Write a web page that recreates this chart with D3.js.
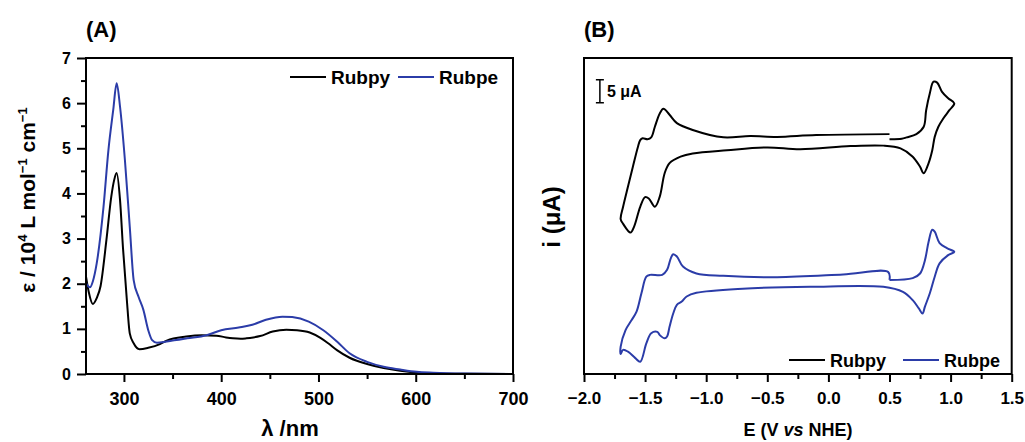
<!DOCTYPE html>
<html>
<head>
<meta charset="utf-8">
<script src="https://cdn.jsdelivr.net/npm/d3@7"></script>
<style>
	body { margin: 0; background: #fff; }
	svg text { font-family: "Liberation Sans", Arial, sans-serif; font-weight: bold; fill: #000; }
</style>
</head>
<body>
<svg width="1025" height="442"></svg>
<script>
// (A) UV-Vis spectra, epsilon in 10^4 L mol-1 cm-1
const rubpyWl = [261, 264, 268, 272, 276, 282, 287, 290, 292.5, 296, 299, 303, 306, 310, 316, 325, 337, 344, 364, 380, 395, 405, 412, 420, 426, 433, 440, 453, 467, 478, 491, 502, 510, 519, 532, 550, 567, 584, 601, 618, 650, 700];
const rubpyEps = [2.16, 1.8, 1.55, 1.68, 1.95, 2.97, 3.93, 4.3, 4.45, 3.85, 2.8, 1.64, 0.9, 0.68, 0.55, 0.58, 0.66, 0.74, 0.83, 0.86, 0.85, 0.81, 0.79, 0.78, 0.79, 0.81, 0.84, 0.94, 0.98, 0.97, 0.92, 0.8, 0.68, 0.53, 0.36, 0.22, 0.13, 0.07, 0.03, 0.01, 0.003, 0];
const rubpeWl = [261, 265, 268, 272, 279, 284, 289, 292.5, 296, 301, 306, 310, 315, 320, 325, 329, 334, 344, 365, 385, 400, 418, 432, 446, 463, 473, 490, 505, 519, 532, 550, 567, 584, 601, 618, 650, 700];
const rubpeEps = [2.01, 1.92, 2.05, 2.45, 3.7, 4.95, 5.85, 6.44, 5.92, 4.74, 3.26, 2.08, 1.71, 1.42, 0.97, 0.75, 0.69, 0.72, 0.79, 0.86, 0.97, 1.03, 1.09, 1.2, 1.27, 1.26, 1.16, 0.97, 0.72, 0.46, 0.27, 0.16, 0.1, 0.05, 0.03, 0.01, 0];

// (B) cyclic voltammograms, E in V vs NHE, i in uA (curves offset for display)
const rubpyE = [0.5, 0.6, 0.64, 0.72, 0.78, 0.8, 0.83, 0.86, 0.89, 0.93, 0.98, 1.03, 0.99, 0.94, 0.9, 0.87, 0.85, 0.82, 0.78, 0.75, 0.69, 0.59, 0.45, 0.18, -0.23, -0.5, -0.83, -1.11, -1.21, -1.3, -1.34, -1.38, -1.42, -1.47, -1.5, -1.54, -1.59, -1.62, -1.68, -1.7, -1.68, -1.64, -1.6, -1.56, -1.54, -1.52, -1.48, -1.45, -1.42, -1.38, -1.35, -1.3, -1.24, -1.11, -0.86, -0.64, -0.42, -0.1, 0.5];
const rubpyI = [16.7, 16.8, 17.1, 17.8, 19.4, 23, 26.7, 29.2, 29, 27, 25.6, 24.5, 23, 21.2, 19.4, 17.2, 14.3, 11.5, 9.3, 10.7, 12.9, 14.7, 15.3, 15.2, 14.5, 14.9, 14.3, 13.6, 12.9, 11.5, 9.3, 4.2, 2, 3.8, 4.1, 2, -2.3, -3.6, -1.7, -0.7, 2, 6.4, 10.7, 14.9, 16.5, 16.9, 16.7, 17.1, 19.4, 22.3, 23.3, 22, 20.2, 18.7, 17.1, 17.4, 17.2, 17.6, 17.8];
const rubpeE = [0.5, 0.69, 0.75, 0.79, 0.82, 0.85, 0.87, 0.91, 0.97, 1.03, 0.98, 0.91, 0.87, 0.83, 0.79, 0.77, 0.74, 0.69, 0.61, 0.45, -0.15, -0.7, -1.08, -1.16, -1.2, -1.24, -1.27, -1.3, -1.32, -1.34, -1.38, -1.4, -1.45, -1.49, -1.54, -1.58, -1.64, -1.68, -1.7, -1.7, -1.66, -1.61, -1.57, -1.53, -1.49, -1.46, -1.36, -1.32, -1.29, -1.27, -1.24, -1.19, -1.08, -0.86, -0.42, 0.12, 0.49, 0.5];
const rubpeI = [-13.9, -13.5, -12.5, -9.6, -5.6, -3, -3.4, -5.9, -7, -7.8, -8.5, -10.3, -13.2, -16.8, -19.7, -21.2, -20.1, -18.3, -16.5, -15.4, -15.4, -15.8, -16.7, -17.5, -18.6, -19.3, -21.2, -24.1, -26.2, -26.6, -25.9, -25.2, -25.5, -27.7, -31.7, -30.9, -29.5, -29.1, -30, -28.4, -24.8, -22.6, -20.8, -16.8, -13.2, -12.8, -12.8, -11.7, -9.2, -8.3, -8.8, -11, -12.5, -13, -13.3, -12.7, -12.2, -13.9];

const seriesNames = ["Rubpy", "Rubpe"];
const seriesColors = ["#000000", "#2b3ca8"];

const xTicksA = [300, 400, 500, 600, 700];
const xMinorA = [350, 450, 550, 650];
const yTicksA = [0, 1, 2, 3, 4, 5, 6, 7];
const yMinorA = [0.5, 1.5, 2.5, 3.5, 4.5, 5.5, 6.5];
const xTicksB = [-2, -1.5, -1, -0.5, 0, 0.5, 1, 1.5];
const xMinorB = [-1.75, -1.25, -0.75, -0.25, 0.25, 0.75, 1.25];
const scaleBar = { E: -1.87, i0: 24.6, i1: 29.6, label: "5 \u03bcA" };

const svg = d3.select("svg");
const plotTop = 58, plotBottom = 374;

// ---------- panel A ----------
const xA = d3.scaleLinear().domain([261, 700]).range([86, 513]);
const yA = d3.scaleLinear().domain([0, 7]).range([plotBottom, plotTop]);

function styleAxis(g) {
	g.select(".domain").remove();
	g.selectAll("line").attr("stroke", "#000").attr("stroke-width", 2);
}

svg.append("g")
	.attr("transform", `translate(0,${plotBottom})`)
	.call(d3.axisBottom(xA).tickValues(xTicksA).tickSize(8).tickPadding(10).tickFormat(d3.format("d")))
	.call(styleAxis)
	.selectAll("text").style("font-size", "18px").style("font-family", "Liberation Sans, Arial").style("font-weight", "bold");
svg.append("g")
	.attr("transform", `translate(0,${plotBottom})`)
	.call(d3.axisBottom(xA).tickValues(xMinorA).tickSize(5).tickFormat(""))
	.call(styleAxis);
svg.append("g")
	.attr("transform", "translate(86,0)")
	.call(d3.axisLeft(yA).tickValues(yTicksA).tickSize(9).tickPadding(6).tickFormat(d3.format("d")))
	.call(styleAxis)
	.selectAll("text").style("font-size", "16px").style("font-family", "Liberation Sans, Arial").style("font-weight", "bold");
svg.append("g")
	.attr("transform", "translate(86,0)")
	.call(d3.axisLeft(yA).tickValues(yMinorA).tickSize(5).tickFormat(""))
	.call(styleAxis);

const lineA = d3.line()
	.x((d) => xA(d[0]))
	.y((d) => yA(d[1]))
	.curve(d3.curveMonotoneX);

const specs = [
	d3.zip(rubpyWl, rubpyEps),
	d3.zip(rubpeWl, rubpeEps),
];
specs.forEach((pts, k) => {
	svg.append("path")
		.attr("d", lineA(pts))
		.attr("fill", "none")
		.attr("stroke", seriesColors[k])
		.attr("stroke-width", 2);
});

svg.append("rect")
	.attr("x", 86).attr("y", plotTop)
	.attr("width", 513 - 86).attr("height", plotBottom - plotTop)
	.attr("fill", "none").attr("stroke", "#000").attr("stroke-width", 2);

// legend A
seriesNames.forEach((name, k) => {
	const x0 = k === 0 ? 290 : 398;
	svg.append("line")
		.attr("x1", x0).attr("x2", x0 + 36)
		.attr("y1", 77).attr("y2", 77)
		.attr("stroke", seriesColors[k]).attr("stroke-width", 2);
	svg.append("text")
		.attr("x", x0 + 41).attr("y", 84)
		.style("font-size", "19px")
		.text(name);
});

svg.append("text").attr("x", 86).attr("y", 37).style("font-size", "22px").text("(A)");

svg.append("text")
	.attr("x", 290).attr("y", 436)
	.attr("text-anchor", "middle")
	.style("font-size", "22px")
	.text("\u03bb /nm");

const yTitle = svg.append("text")
	.attr("transform", "translate(35,200) rotate(-90)")
	.attr("text-anchor", "middle")
	.style("font-size", "21px");
yTitle.append("tspan").text("\u03b5 / 10");
yTitle.append("tspan").attr("dy", -8).style("font-size", "13px").text("4");
yTitle.append("tspan").attr("dy", 8).text(" L mol");
yTitle.append("tspan").attr("dy", -8).style("font-size", "13px").text("\u22121");
yTitle.append("tspan").attr("dy", 8).text(" cm");
yTitle.append("tspan").attr("dy", -8).style("font-size", "13px").text("\u22121");

// ---------- panel B ----------
const xB = d3.scaleLinear().domain([-2, 1.5]).range([584, 1011.7]);
const yB = d3.scaleLinear().domain([-34.35, 34.35]).range([plotBottom, plotTop]);

svg.append("g")
	.attr("transform", `translate(0,${plotBottom})`)
	.call(d3.axisBottom(xB).tickValues(xTicksB).tickSize(8).tickPadding(10).tickFormat(d3.format(".1f")))
	.call(styleAxis)
	.selectAll("text").style("font-size", "17px").style("font-family", "Liberation Sans, Arial").style("font-weight", "bold");
svg.append("g")
	.attr("transform", `translate(0,${plotBottom})`)
	.call(d3.axisBottom(xB).tickValues(xMinorB).tickSize(5).tickFormat(""))
	.call(styleAxis);

const lineB = d3.line()
	.x((d) => xB(d[0]))
	.y((d) => yB(d[1]))
	.curve(d3.curveCatmullRom.alpha(0.5));

const cvs = [
	d3.zip(rubpyE, rubpyI),
	d3.zip(rubpeE, rubpeI),
];
cvs.forEach((pts, k) => {
	svg.append("path")
		.attr("d", lineB(pts))
		.attr("fill", "none")
		.attr("stroke", seriesColors[k])
		.attr("stroke-width", 2);
});

svg.append("rect")
	.attr("x", 584).attr("y", plotTop)
	.attr("width", 1011.7 - 584).attr("height", plotBottom - plotTop)
	.attr("fill", "none").attr("stroke", "#000").attr("stroke-width", 2);

// scale bar
const sbx = xB(scaleBar.E);
svg.append("path")
	.attr("d", `M${sbx - 4},${yB(scaleBar.i1)}H${sbx + 4}M${sbx},${yB(scaleBar.i1)}V${yB(scaleBar.i0)}M${sbx - 4},${yB(scaleBar.i0)}H${sbx + 4}`)
	.attr("fill", "none").attr("stroke", "#000").attr("stroke-width", 1.5);
svg.append("text")
	.attr("x", sbx + 7).attr("y", 97)
	.style("font-size", "16px")
	.text(scaleBar.label);

// legend B
seriesNames.forEach((name, k) => {
	const x0 = k === 0 ? 789 : 903;
	svg.append("line")
		.attr("x1", x0).attr("x2", x0 + 36)
		.attr("y1", 360).attr("y2", 360)
		.attr("stroke", seriesColors[k]).attr("stroke-width", 2);
	svg.append("text")
		.attr("x", x0 + 41).attr("y", 367)
		.style("font-size", "18px")
		.text(name);
});

svg.append("text").attr("x", 584).attr("y", 37).style("font-size", "22px").text("(B)");

svg.append("text")
	.attr("transform", "translate(560,217) rotate(-90)")
	.attr("text-anchor", "middle")
	.style("font-size", "24px")
	.text("i (\u03bcA)");

const xTitleB = svg.append("text")
	.attr("x", 798).attr("y", 436)
	.attr("text-anchor", "middle")
	.style("font-size", "18px");
xTitleB.append("tspan").text("E (V ");
xTitleB.append("tspan").style("font-style", "italic").text("vs");
xTitleB.append("tspan").text(" NHE)");
</script>
</body>
</html>
